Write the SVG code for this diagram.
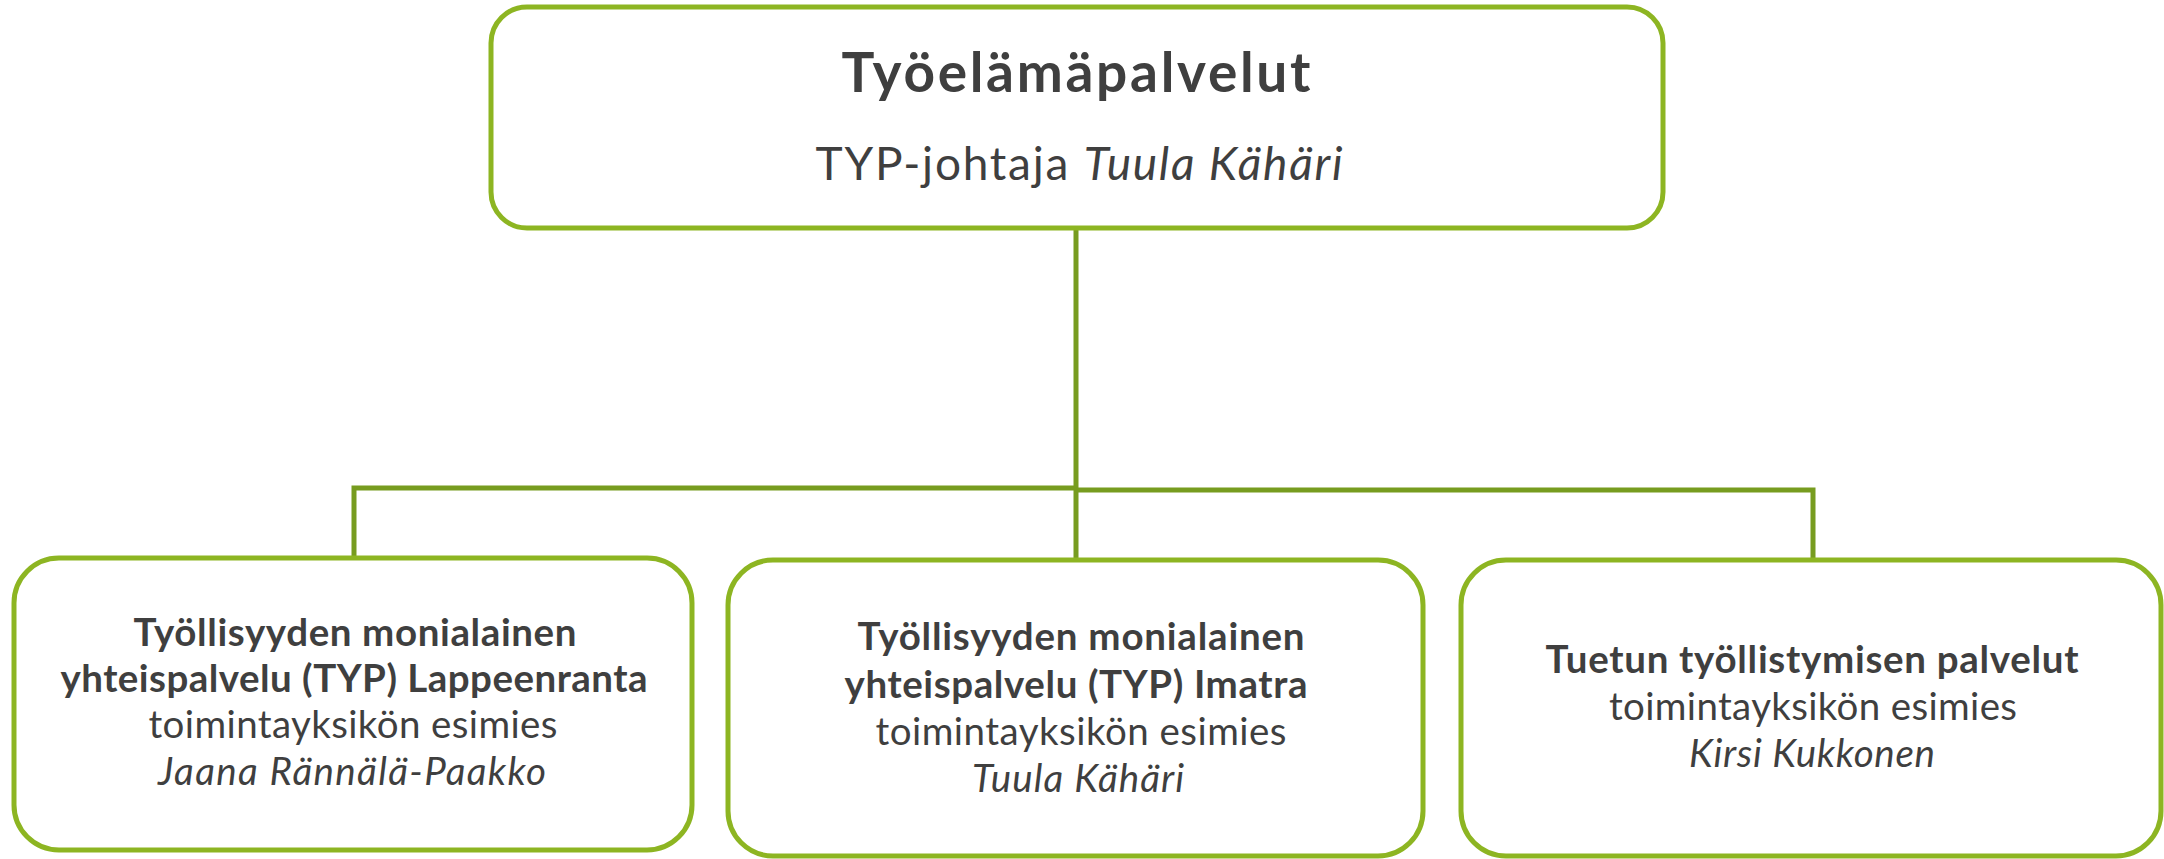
<svg xmlns="http://www.w3.org/2000/svg" width="2164" height="859" viewBox="0 0 2164 859">
<style>
.box{fill:#ffffff;stroke:#8db522;stroke-width:5}
.conn{fill:none;stroke:#779c1f;stroke-width:5}
text{font-family:Lato,"Open Sans","Liberation Sans",sans-serif;fill:#3f3f3f;text-anchor:middle}
.b{font-weight:bold}
.i{font-style:italic}
.t1{font-size:55px;font-weight:bold}
.t2{font-size:46px}
.s{font-size:38.5px}
</style>
<rect width="2164" height="859" fill="#ffffff"/>
<g id="connectors">
<polyline class="conn" points="1076,228 1076,558"/>
<polyline class="conn" points="354,558 354,488 1076,488"/>
<polyline class="conn" points="1076,490 1813,490 1813,560"/>
</g>
<g id="node-top">
<rect class="box" x="491" y="7" width="1172" height="221" rx="36" ry="36"/>
<text class="t1" x="1076" y="92" textLength="469">Työelämäpalvelut</text>
<text class="t2" x="1079" y="180" textLength="527">TYP-johtaja <tspan class="i">Tuula Kähäri</tspan></text>
</g>
<g id="node-left">
<rect class="box" x="14" y="558" width="678" height="292" rx="45" ry="45"/>
<text class="s b" x="355" y="646" textLength="443">Työllisyyden monialainen</text>
<text class="s b" x="354" y="692" textLength="587">yhteispalvelu (TYP) Lappeenranta</text>
<text class="s" x="353" y="738" textLength="409">toimintayksikön esimies</text>
<text class="s i" x="352" y="785" textLength="388">Jaana Rännälä-Paakko</text>
</g>
<g id="node-middle">
<rect class="box" x="728" y="560" width="695" height="296" rx="45" ry="45"/>
<text class="s b" x="1081" y="650" textLength="447">Työllisyyden monialainen</text>
<text class="s b" x="1076" y="698" textLength="463">yhteispalvelu (TYP) Imatra</text>
<text class="s" x="1081" y="745" textLength="411">toimintayksikön esimies</text>
<text class="s i" x="1078" y="792" textLength="212">Tuula Kähäri</text>
</g>
<g id="node-right">
<rect class="box" x="1461" y="560" width="700" height="296" rx="45" ry="45"/>
<text class="s b" x="1812" y="673" textLength="533">Tuetun työllistymisen palvelut</text>
<text class="s" x="1813" y="720" textLength="408">toimintayksikön esimies</text>
<text class="s i" x="1812" y="767" textLength="246">Kirsi Kukkonen</text>
</g>
</svg>
